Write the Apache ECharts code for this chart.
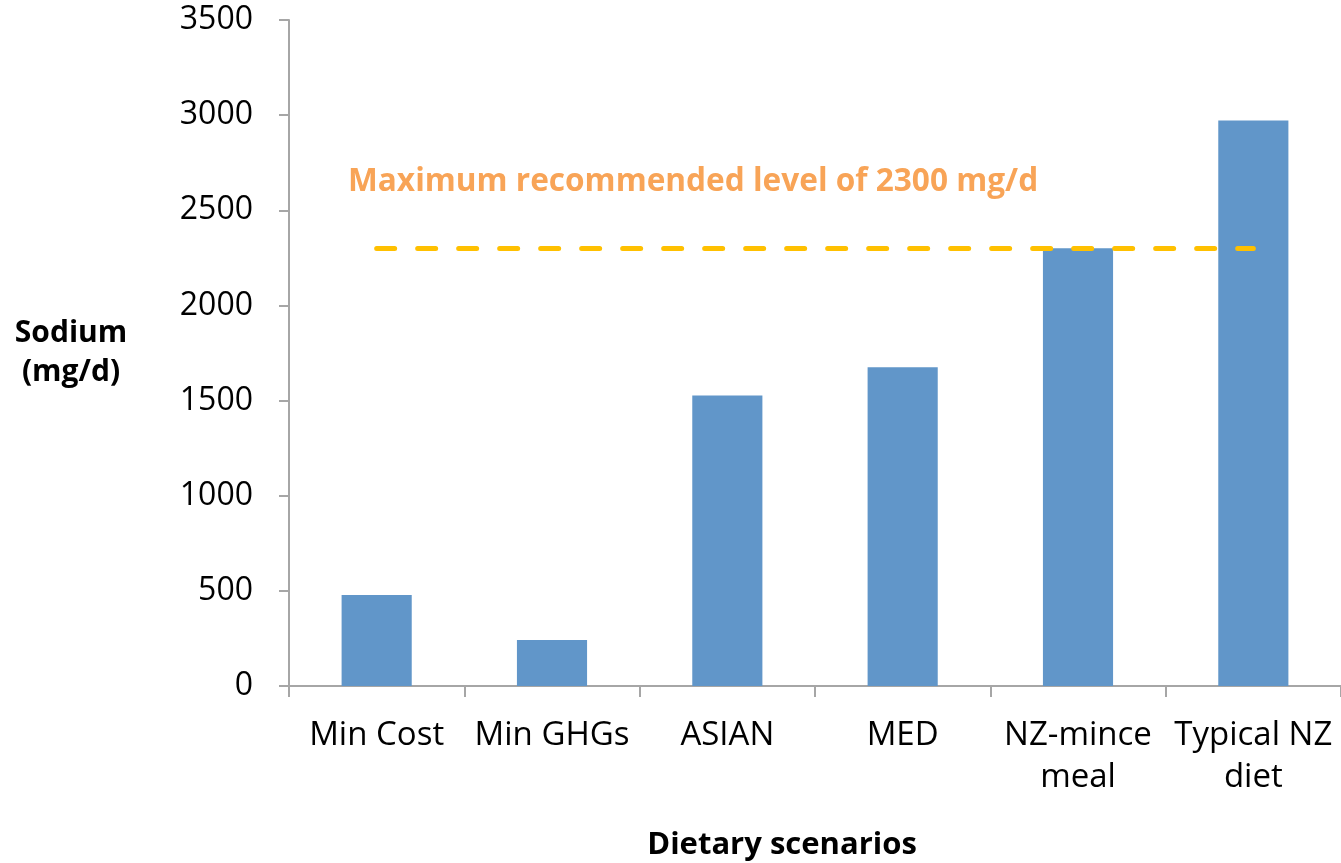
<!DOCTYPE html>
<html>
<head>
<meta charset="utf-8">
<script src="https://cdn.jsdelivr.net/npm/echarts@6/dist/echarts.min.js"></script>
<style>
html,body{margin:0;padding:0;background:#fff;}
#chart{width:1341px;height:863px;}
</style>
</head>
<body>
<div id="chart"></div>
<script>
const categories = ['Min Cost', 'Min GHGs', 'ASIAN', 'MED', 'NZ-mince\nmeal', 'Typical NZ\ndiet'];
const sodium = [478, 242, 1527, 1675, 2300, 2972];
const maxRecommended = 2300;
const annotation = 'Maximum recommended level of 2300 mg/d';
const yTicks = {min: 0, max: 3500, interval: 500};

const FONT = '"Open Sans", "Noto Sans", sans-serif';
const chart = echarts.init(document.getElementById('chart'));
chart.setOption({
  animation: false,
  backgroundColor: '#ffffff',
  grid: {left: 289, top: 20, width: 1057, height: 666, containLabel: false},
  title: {
    text: 'Dietary scenarios',
    left: 777, top: 825, textAlign: 'center',
    textStyle: {fontFamily: FONT, fontWeight: 'bold', fontSize: 31, color: '#000'}
  },
  graphic: [
    {
      type: 'text', x: 71, y: 314,
      style: {
        text: 'Sodium\n(mg/d)', fontFamily: FONT, fontWeight: 'bold', fontSize: 30,
        fill: '#000', align: 'center', textAlign: 'center', lineHeight: 39
      }
    },
    {
      type: 'text', left: 348, top: 166,
      style: {
        text: annotation, fontFamily: FONT, fontWeight: 'bold', fontSize: 31.6,
        fill: '#F8A457'
      }
    }
  ],
  xAxis: {
    type: 'category',
    data: categories,
    axisLine: {lineStyle: {color: '#A6A6A6', width: 2}},
    axisTick: {show: true, length: 11, lineStyle: {color: '#A6A6A6', width: 2}},
    axisLabel: {fontFamily: FONT, fontSize: 33, color: '#000', margin: 29, lineHeight: 42, interval: 0}
  },
  yAxis: {
    type: 'value',
    min: yTicks.min, max: yTicks.max, interval: yTicks.interval,
    splitLine: {show: false},
    axisLine: {show: true, lineStyle: {color: '#A6A6A6', width: 2}},
    axisTick: {show: true, length: 10, lineStyle: {color: '#A6A6A6', width: 2}},
    axisLabel: {fontFamily: FONT, fontSize: 32, color: '#000', margin: 36, formatter: v => String(v)}
  },
  series: [{
    type: 'bar',
    data: sodium,
    barWidth: '40%',
    itemStyle: {color: '#6196C9'},
    markLine: {
      silent: true,
      symbol: 'none',
      label: {show: false},
      lineStyle: {color: '#FFC000', width: 5, type: [18, 23], cap: 'round'},
      data: [[{coord: [0, maxRecommended]}, {coord: [categories.length - 1, maxRecommended]}]]
    }
  }]
});
</script>
</body>
</html>
